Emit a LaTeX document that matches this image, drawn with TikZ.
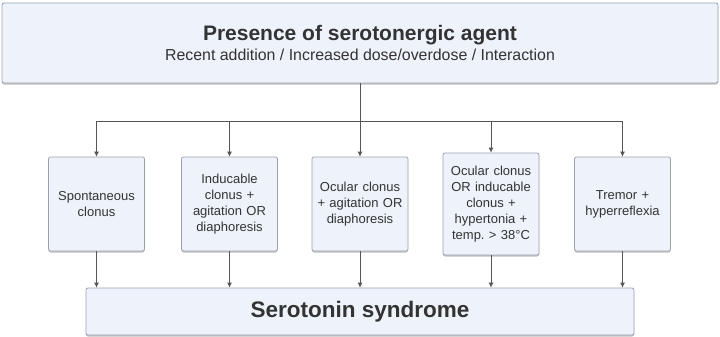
\documentclass[tikz,border=0pt]{standalone}
\usepackage{fontspec}
\setmainfont{Liberation Sans}
\usetikzlibrary{arrows.meta,shadows}
\definecolor{fondboite}{HTML}{EEF3FB}
\definecolor{bordboite}{HTML}{9AA3AD}
\definecolor{trait}{HTML}{555555}
\definecolor{texte}{HTML}{333333}

\begin{document}
\begin{tikzpicture}[x=1pt, y=-1pt,
	boite/.style={draw=bordboite, fill=fondboite, line width=0.8pt, rounded corners=2pt,
		text=texte, align=center, inner sep=0pt,
		drop shadow={shadow xshift=0pt, shadow yshift=-1.5pt, fill=black, opacity=0.25}},
	critere/.style={boite, minimum width=96pt, minimum height=94pt, text width=90pt,
		font=\fontsize{13}{16}\selectfont},
	fleche/.style={draw=trait, line width=0.8pt, -{Latex[length=5pt,width=5pt]}}]
	\useasboundingbox (0,0) rectangle (720,337);
	% boite du haut
	\node[boite, minimum width=716pt, minimum height=80pt,
		font=\fontsize{15.9}{20}\selectfont] (agent) at (360,43)
		{{\fontsize{21}{25}\selectfont\bfseries Presence of serotonergic agent}\\
		 Recent addition / Increased dose/overdose / Interaction};
	% criteres
	\node[critere] (spont) at (96.5,204) {Spontaneous\\clonus};
	\node[critere] (induc) at (229.5,204) {Inducable\\clonus +\\agitation OR\\diaphoresis};
	\node[critere] (ocul) at (360,204) {Ocular clonus\\+ agitation OR\\diaphoresis};
	\node[critere, minimum height=102pt] (temp) at (491,204)
		{Ocular clonus\\OR inducable\\clonus +\\hypertonia +\\temp.\ > 38°C};
	\node[critere] (tremor) at (622.5,204) {Tremor +\\hyperreflexia};
	% boite du bas
	\node[boite, minimum width=548pt, minimum height=47pt,
		font=\fontsize{22.5}{27}\selectfont\bfseries] (sero) at (360,311.5) {Serotonin syndrome};
	% fleches
	\coordinate (split) at (360,121);
	\draw[draw=trait, line width=0.8pt] (agent.south) -- (split);
	\foreach \n in {spont, induc, ocul, temp, tremor}{
		\draw[fleche] (split) -| (\n.north);
		\draw[fleche] (\n.south) -- (\n.south |- sero.north);
	}
\end{tikzpicture}
\end{document}
